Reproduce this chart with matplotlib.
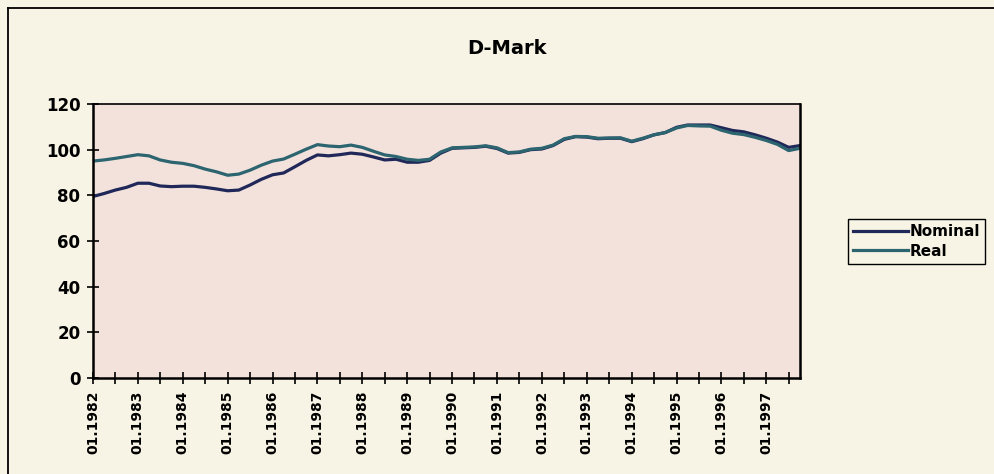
import matplotlib
matplotlib.use('Agg')
import matplotlib.pyplot as plt
import matplotlib.dates as mdates
from matplotlib.lines import Line2D
from matplotlib.ticker import FuncFormatter
import pandas as pd

# quarterly readings, 01.1982 .. 10.1997
dates = pd.date_range('1982-01-01', periods=64, freq='QS')
nominal = [
    79.5, 80.8, 82.3, 83.5, 85.3, 85.3, 84.1, 83.8,
    84.0, 84.0, 83.5, 82.8, 82.0, 82.3, 84.5, 87.0,
    89.0, 89.8, 92.5, 95.3, 97.7, 97.3, 97.8, 98.5,
    98.0, 96.8, 95.5, 95.8, 94.5, 94.5, 95.3, 98.5,
    100.6, 100.8, 101.0, 101.5, 100.5, 98.5, 98.8, 100.0,
    100.3, 101.8, 104.5, 105.7, 105.5, 104.8, 105.0, 105.0,
    103.5, 104.8, 106.5, 107.5, 109.8, 110.8, 110.8, 110.8,
    109.6, 108.4, 107.8, 106.5, 105.0, 103.3, 101.0, 101.8,
]
real = [
    95.0, 95.5, 96.2, 97.0, 97.8, 97.3, 95.5, 94.5,
    94.0, 93.0, 91.5, 90.3, 88.8, 89.3, 91.0, 93.2,
    95.0, 95.9, 98.0, 100.2, 102.2, 101.6, 101.3, 102.0,
    101.0, 99.3, 97.7, 97.0, 95.8, 95.3, 95.8, 99.0,
    100.8, 101.0, 101.2, 101.7, 100.8, 98.7, 99.0, 100.2,
    100.6, 102.0, 104.8, 105.8, 105.7, 105.0, 105.1, 105.2,
    103.7, 105.0, 106.5, 107.5, 109.5, 110.6, 110.4, 110.3,
    108.5, 107.2, 106.6, 105.4, 104.0, 102.3, 99.6, 100.6,
]
series_names = ['Nominal', 'Real']
y_ticks = [0, 20, 40, 60, 80, 100, 120]

FIG_BG = '#f8f4e5'
PLOT_BG = '#f3e2dc'
FONT = 'DejaVu Sans'

fig = plt.figure(figsize=(9.94, 4.74), dpi=100, facecolor=FIG_BG)
ax = fig.add_axes([93 / 994, 1 - 378 / 474, (800 - 93) / 994, (378 - 104) / 474])
ax.set_facecolor(PLOT_BG)

ax.plot(dates, nominal, color='#1f2858', lw=2.3, label=series_names[0])
ax.plot(dates, real, color='#2c6470', lw=2.3, label=series_names[1])

ax.set_ylim(0, 120)
ax.set_xlim(dates[0], dates[-1])
ax.set_yticks(y_ticks)

ax.xaxis.set_major_locator(mdates.MonthLocator(bymonth=[1, 7]))
ax.xaxis.set_major_formatter(FuncFormatter(
    lambda v, pos: mdates.num2date(v).strftime('%m.%Y') if mdates.num2date(v).month == 1 else ''))

ax.tick_params(axis='both', direction='inout', length=8, width=1.2, color='black')
ax.tick_params(axis='y', pad=5)
ax.tick_params(axis='x', pad=5)
for lbl in ax.get_yticklabels():
    lbl.set_fontfamily(FONT)
    lbl.set_fontweight('bold')
    lbl.set_fontsize(12)
for lbl in ax.get_xticklabels():
    lbl.set_fontfamily(FONT)
    lbl.set_fontweight('bold')
    lbl.set_fontsize(10)
    lbl.set_rotation(90)

for side in ['left', 'bottom', 'right']:
    ax.spines[side].set_linewidth(1.8)
ax.spines['top'].set_linewidth(1.2)
for s in ax.spines.values():
    s.set_color('black')

fig.text(507 / 994, 1 - 48 / 474, 'D-Mark', ha='center', va='center',
         fontsize=14, fontweight='bold', family=FONT)

leg = fig.legend(loc='upper left', bbox_to_anchor=(840 / 994, 1 - 211 / 474),
                 frameon=True, fancybox=False, edgecolor='black',
                 facecolor=FIG_BG, framealpha=1, handlelength=3.6,
                 handletextpad=0.1, borderpad=0.35, labelspacing=0.3,
                 prop={'family': FONT, 'weight': 'bold', 'size': 11})
leg.get_frame().set_linewidth(1.0)

# outer chart frame (runs off the picture on the right and bottom)
fig.add_artist(Line2D([7.5 / 994, 7.5 / 994], [0, 1 - 8 / 474], color='black', lw=1.3,
                      transform=fig.transFigure))
fig.add_artist(Line2D([7.5 / 994, 1], [1 - 8 / 474, 1 - 8 / 474], color='black', lw=1.3,
                      transform=fig.transFigure))

fig.savefig('out.png', dpi=100, facecolor=FIG_BG)
